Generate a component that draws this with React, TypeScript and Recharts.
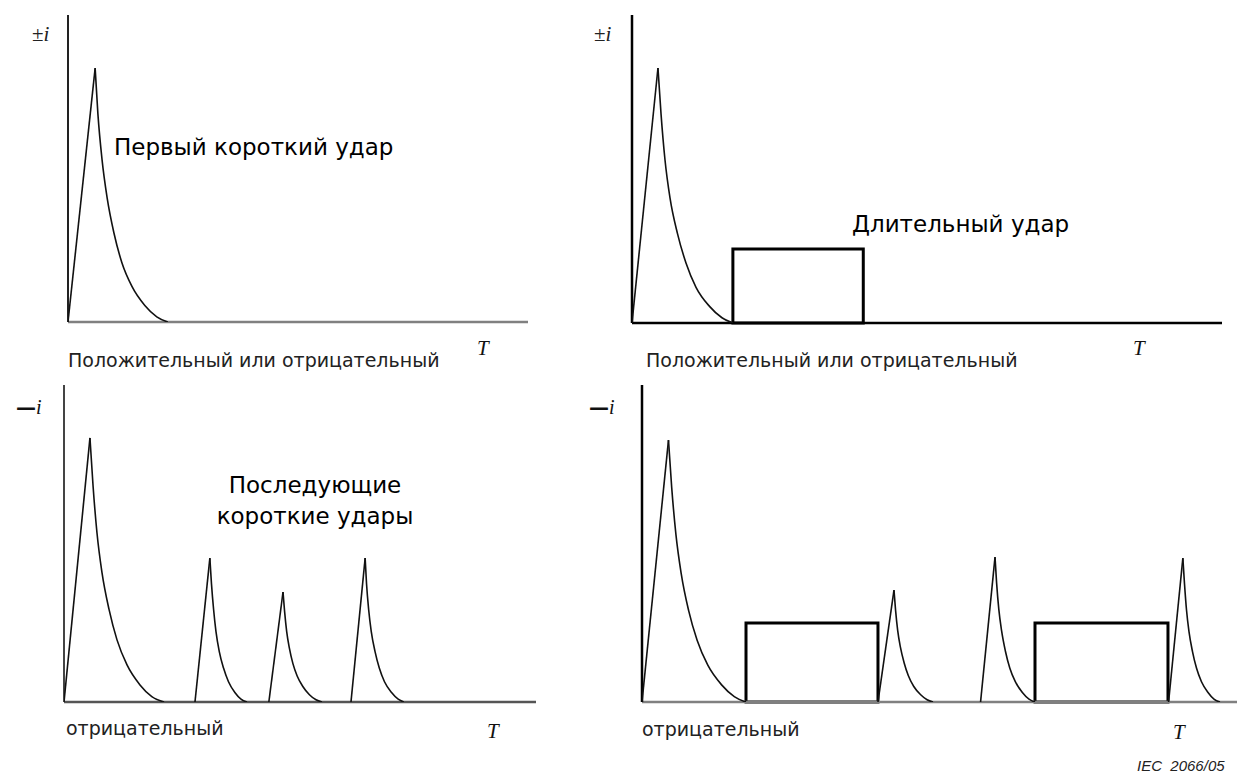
import React from 'react';
import { LineChart, Line, XAxis, YAxis, ReferenceArea, ReferenceLine } from 'recharts';

// Lightning current components (IEC 62305-1 style sketch).
// t and i are in arbitrary units: each panel spans t 0..100 and i 0..100.

type Pt = { t: number; i: number };
type Pulse = { rise: Pt[]; decay: Pt[] };
type Block = { from: number; to: number; level: number };

// --- top-left: first short stroke ---------------------------------------
const FIRST_RISE: Pt[] = [{ t: 0, i: 0 }, { t: 5.9, i: 82.7 }];
const FIRST_DECAY: Pt[] = [
  { t: 5.9, i: 82.7 }, { t: 6.5, i: 67.8 }, { t: 7.4, i: 52.9 }, { t: 8.5, i: 40.5 },
  { t: 10.0, i: 28.9 }, { t: 11.7, i: 19.4 }, { t: 13.9, i: 11.6 }, { t: 16.7, i: 5.4 },
  { t: 19.3, i: 1.7 }, { t: 21.7, i: 0 },
];

// --- top-right: first stroke followed by a long stroke ------------------
const LONG_FIRST_RISE: Pt[] = [{ t: 0, i: 0 }, { t: 4.4, i: 82.8 }];
const LONG_FIRST_DECAY: Pt[] = [
  { t: 4.4, i: 82.8 }, { t: 4.92, i: 67.9 }, { t: 5.59, i: 53.0 }, { t: 6.44, i: 40.6 },
  { t: 7.71, i: 29.0 }, { t: 9.15, i: 19.5 }, { t: 10.85, i: 11.6 }, { t: 13.14, i: 5.4 },
  { t: 15.25, i: 1.7 }, { t: 17.12, i: 0 },
];
const LONG_BLOCKS: Block[] = [{ from: 17.1, to: 39.2, level: 24.0 }];

// --- bottom-left: first + subsequent short strokes ----------------------
const SUB_A_RISE: Pt[] = [{ t: 0, i: 0 }, { t: 5.5, i: 83.3 }];
const SUB_A_DECAY: Pt[] = [
  { t: 5.5, i: 83.3 }, { t: 6.15, i: 68.3 }, { t: 6.99, i: 53.3 }, { t: 8.05, i: 40.8 },
  { t: 9.54, i: 29.2 }, { t: 11.23, i: 19.6 }, { t: 13.35, i: 11.7 }, { t: 16.1, i: 5.4 },
  { t: 18.6, i: 1.7 }, { t: 21.2, i: 0 },
];
const SUB_B_RISE: Pt[] = [{ t: 27.75, i: 0 }, { t: 30.9, i: 45.4 }];
const SUB_B_DECAY: Pt[] = [
  { t: 30.9, i: 45.4 }, { t: 31.25, i: 37.2 }, { t: 31.7, i: 29.1 }, { t: 32.2, i: 22.2 },
  { t: 32.9, i: 15.9 }, { t: 33.8, i: 10.7 }, { t: 34.85, i: 6.4 }, { t: 36.2, i: 3.0 },
  { t: 37.5, i: 0.9 }, { t: 38.77, i: 0 },
];
const SUB_C_RISE: Pt[] = [{ t: 43.4, i: 0 }, { t: 46.4, i: 34.7 }];
const SUB_C_DECAY: Pt[] = [
  { t: 46.4, i: 34.7 }, { t: 46.74, i: 28.5 }, { t: 47.18, i: 22.2 }, { t: 47.75, i: 17.0 },
  { t: 48.5, i: 12.1 }, { t: 49.4, i: 8.2 }, { t: 50.6, i: 4.9 }, { t: 52.0, i: 2.3 },
  { t: 53.4, i: 0.7 }, { t: 54.66, i: 0 },
];
const SUB_D_RISE: Pt[] = [{ t: 60.8, i: 0 }, { t: 63.8, i: 45.4 }];
const SUB_D_DECAY: Pt[] = [
  { t: 63.8, i: 45.4 }, { t: 64.1, i: 37.2 }, { t: 64.55, i: 29.1 }, { t: 65.1, i: 22.2 },
  { t: 65.9, i: 15.9 }, { t: 66.8, i: 10.7 }, { t: 67.9, i: 6.4 }, { t: 69.4, i: 3.0 },
  { t: 70.8, i: 0.9 }, { t: 72.0, i: 0 },
];

// --- bottom-right: short strokes mixed with long strokes ----------------
const MIX_A_RISE: Pt[] = [{ t: 0, i: 0 }, { t: 4.45, i: 82.6 }];
const MIX_A_DECAY: Pt[] = [
  { t: 4.45, i: 82.6 }, { t: 4.99, i: 67.7 }, { t: 5.7, i: 52.9 }, { t: 6.59, i: 40.5 },
  { t: 7.83, i: 28.9 }, { t: 9.28, i: 19.4 }, { t: 11.06, i: 11.6 }, { t: 13.38, i: 5.4 },
  { t: 15.51, i: 1.7 }, { t: 17.48, i: 0 },
];
const MIX_B_RISE: Pt[] = [{ t: 39.66, i: 0 }, { t: 42.35, i: 35.3 }];
const MIX_B_DECAY: Pt[] = [
  { t: 42.35, i: 35.3 }, { t: 42.62, i: 28.9 }, { t: 42.97, i: 22.6 }, { t: 43.43, i: 17.3 },
  { t: 44.05, i: 12.4 }, { t: 44.77, i: 8.3 }, { t: 45.68, i: 4.9 }, { t: 46.84, i: 2.3 },
  { t: 47.92, i: 0.7 }, { t: 48.91, i: 0 },
];
const MIX_C_RISE: Pt[] = [{ t: 56.9, i: 0 }, { t: 59.33, i: 45.7 }];
const MIX_C_DECAY: Pt[] = [
  { t: 59.33, i: 45.7 }, { t: 59.6, i: 37.5 }, { t: 59.97, i: 29.2 }, { t: 60.44, i: 22.4 },
  { t: 61.08, i: 16.0 }, { t: 61.81, i: 10.7 }, { t: 62.74, i: 6.4 }, { t: 63.93, i: 3.0 },
  { t: 65.04, i: 0.9 }, { t: 66.05, i: 0 },
];
const MIX_D_RISE: Pt[] = [{ t: 88.5, i: 0 }, { t: 90.9, i: 45.4 }];
const MIX_D_DECAY: Pt[] = [
  { t: 90.9, i: 45.4 }, { t: 91.18, i: 37.2 }, { t: 91.51, i: 29.1 }, { t: 91.93, i: 22.2 },
  { t: 92.52, i: 15.9 }, { t: 93.19, i: 10.7 }, { t: 94.03, i: 6.4 }, { t: 95.13, i: 3.0 },
  { t: 96.13, i: 0.9 }, { t: 97.14, i: 0 },
];
const MIX_BLOCKS: Block[] = [
  { from: 17.48, to: 39.66, level: 24.9 },
  { from: 66.05, to: 88.4, level: 24.9 },
];

const SANS = '"DejaVu Sans", Verdana, sans-serif';
const SERIF = '"Liberation Serif", "Times New Roman", serif';
const LINE = '#111';

type Stroke = { stroke: string; strokeWidth: number };

function StrokePanel({
  width, height, margin, pulses, blocks = [], xAxisLine, yAxisLine,
}: {
  width: number;
  height: number;
  margin: { top: number; right: number; bottom: number; left: number };
  pulses: Pulse[];
  blocks?: Block[];
  xAxisLine: Stroke;
  yAxisLine: Stroke;
}) {
  return (
    <LineChart width={width} height={height} margin={margin}>
      <XAxis type="number" dataKey="t" domain={[0, 100]} allowDataOverflow hide />
      <YAxis type="number" dataKey="i" domain={[0, 100]} allowDataOverflow hide />
      {/* the two axis lines of the sketch */}
      <ReferenceLine y={0} stroke={xAxisLine.stroke} strokeWidth={xAxisLine.strokeWidth} ifOverflow="visible" />
      <ReferenceLine x={0} stroke={yAxisLine.stroke} strokeWidth={yAxisLine.strokeWidth} ifOverflow="visible" />
      {blocks.map((b, k) => (
        <ReferenceArea key={`b${k}`} x1={b.from} x2={b.to} y1={0} y2={b.level}
          stroke="#000" strokeWidth={3} fill="#fff" fillOpacity={0} ifOverflow="visible" />
      ))}
      {pulses.map((p, k) => (
        <Line key={`r${k}`} data={p.rise} dataKey="i" type="linear" stroke={LINE}
          strokeWidth={1.6} dot={false} activeDot={false} isAnimationActive={false} />
      ))}
      {pulses.map((p, k) => (
        <Line key={`d${k}`} data={p.decay} dataKey="i" type="monotone" stroke={LINE}
          strokeWidth={1.6} dot={false} activeDot={false} isAnimationActive={false} />
      ))}
    </LineChart>
  );
}

function Box({ left, top, children }: { left: number; top: number; children: React.ReactNode }) {
  return <div style={{ position: 'absolute', left, top }}>{children}</div>;
}

export default function App() {
  return (
    <div style={{ position: 'absolute', left: 0, top: 0, width: 1237, height: 774, background: '#fff', overflow: 'hidden' }}>
      <Box left={0} top={0}>
        <StrokePanel width={590} height={370} margin={{ top: 15, right: 62, bottom: 48, left: 68 }}
          pulses={[{ rise: FIRST_RISE, decay: FIRST_DECAY }]}
          xAxisLine={{ stroke: '#808080', strokeWidth: 2.5 }} yAxisLine={{ stroke: '#222', strokeWidth: 2 }} />
      </Box>
      <Box left={590} top={0}>
        <StrokePanel width={647} height={370} margin={{ top: 15, right: 15, bottom: 47, left: 42 }}
          pulses={[{ rise: LONG_FIRST_RISE, decay: LONG_FIRST_DECAY }]} blocks={LONG_BLOCKS}
          xAxisLine={{ stroke: '#000', strokeWidth: 2.5 }} yAxisLine={{ stroke: '#000', strokeWidth: 2.5 }} />
      </Box>
      <Box left={0} top={370}>
        <StrokePanel width={590} height={404} margin={{ top: 15, right: 54, bottom: 72, left: 64 }}
          pulses={[
            { rise: SUB_A_RISE, decay: SUB_A_DECAY },
            { rise: SUB_B_RISE, decay: SUB_B_DECAY },
            { rise: SUB_C_RISE, decay: SUB_C_DECAY },
            { rise: SUB_D_RISE, decay: SUB_D_DECAY },
          ]}
          xAxisLine={{ stroke: '#555', strokeWidth: 2.5 }} yAxisLine={{ stroke: '#444', strokeWidth: 2 }} />
      </Box>
      <Box left={590} top={370}>
        <StrokePanel width={647} height={404} margin={{ top: 15, right: 0, bottom: 72, left: 52 }}
          pulses={[
            { rise: MIX_A_RISE, decay: MIX_A_DECAY },
            { rise: MIX_B_RISE, decay: MIX_B_DECAY },
            { rise: MIX_C_RISE, decay: MIX_C_DECAY },
            { rise: MIX_D_RISE, decay: MIX_D_DECAY },
          ]}
          blocks={MIX_BLOCKS}
          xAxisLine={{ stroke: '#808080', strokeWidth: 2.5 }} yAxisLine={{ stroke: '#000', strokeWidth: 2.5 }} />
      </Box>

      <svg width={1237} height={774} style={{ position: 'absolute', left: 0, top: 0, pointerEvents: 'none' }}>
        {/* axis names */}
        <text x={32} y={41} fontFamily={SERIF} fontSize={21} fill="#222">±<tspan fontStyle="italic">i</tspan></text>
        <text x={594} y={41} fontFamily={SERIF} fontSize={21} fill="#222">±<tspan fontStyle="italic">i</tspan></text>
        <text x={16} y={414} fontFamily={SERIF} fontSize={20} fill="#111"><tspan fontFamily={SANS} fontWeight="bold">—</tspan><tspan fontStyle="italic">i</tspan></text>
        <text x={589} y={414} fontFamily={SERIF} fontSize={20} fill="#111"><tspan fontFamily={SANS} fontWeight="bold">—</tspan><tspan fontStyle="italic">i</tspan></text>

        <text x={477} y={355} fontFamily={SERIF} fontStyle="italic" fontSize={21} fill="#111">T</text>
        <text x={1133} y={355} fontFamily={SERIF} fontStyle="italic" fontSize={21} fill="#111">T</text>
        <text x={487} y={738} fontFamily={SERIF} fontStyle="italic" fontSize={21} fill="#111">T</text>
        <text x={1173} y={739} fontFamily={SERIF} fontStyle="italic" fontSize={21} fill="#111">T</text>

        {/* polarity captions */}
        <text x={68} y={367} fontFamily={SANS} fontSize={19} fill="#222">Положительный или отрицательный</text>
        <text x={646} y={367} fontFamily={SANS} fontSize={19} fill="#222">Положительный или отрицательный</text>
        <text x={66} y={735} fontFamily={SANS} fontSize={19} fill="#222">отрицательный</text>
        <text x={642} y={736} fontFamily={SANS} fontSize={19} fill="#222">отрицательный</text>

        {/* stroke names */}
        <text x={114} y={155} fontFamily={SANS} fontSize={23} fill="#000">Первый короткий удар</text>
        <text x={852} y={232} fontFamily={SANS} fontSize={23} fill="#000">Длительный удар</text>
        <text x={315} y={493} fontFamily={SANS} fontSize={23} fill="#000" textAnchor="middle">Последующие</text>
        <text x={315} y={524} fontFamily={SANS} fontSize={23} fill="#000" textAnchor="middle">короткие удары</text>

        <text x={1137} y={771} fontFamily='"Liberation Sans", Arial, sans-serif' fontStyle="italic" fontSize={15} fill="#222" xmlSpace="preserve">IEC  2066/05</text>
      </svg>
    </div>
  );
}
